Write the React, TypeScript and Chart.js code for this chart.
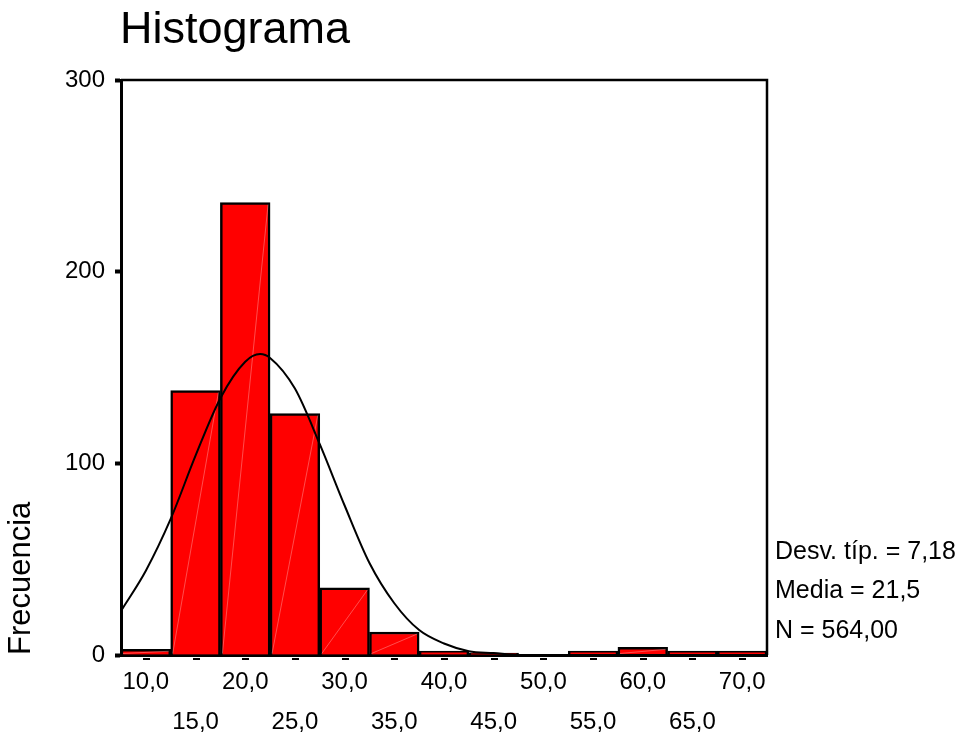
import { useEffect, useRef } from 'react';
import { Chart, registerables } from 'chart.js';

Chart.register(...registerables);

// Histogram bins (centre of each 5-unit class) and their frequencies
const BIN_CENTERS = [10, 15, 20, 25, 30, 35, 40, 45, 50, 55, 60, 65, 70];
const FREQUENCIES = [3, 138, 236, 126, 35, 12, 2, 1, 0, 2, 4, 2, 2];

// Fitted normal curve, sampled along the x range
const CURVE_X = [7.5, 10, 12.5, 15, 17.5, 20, 21.5, 22.5, 25, 27.5, 30, 32.5, 35, 37.5, 40, 42.5, 45, 47.5, 50, 52.5, 72.5];
const CURVE_Y = [23, 44, 71, 104, 134, 153, 157, 155, 139, 110, 78, 48, 27, 13, 6, 2, 1, 0, 0, 0, 0];

const X_TICKS = [10, 15, 20, 25, 30, 35, 40, 45, 50, 55, 60, 65, 70];
const Y_TICKS = [0, 100, 200, 300];
const X_MIN = 7.5;
const X_MAX = 72.5;

const TITLE = 'Histograma';
const Y_TITLE = 'Frecuencia';
const STATS = ['Desv. típ. = 7,18', 'Media = 21,5', 'N = 564,00'];

const FONT = 'Arial, "Liberation Sans", sans-serif';

const fmt = (v: number) => v.toFixed(1).replace('.', ',');

const decorPlugin = {
  id: 'decor',
  afterDatasetDraw(chart: any, args: any) {
    if (args.meta.type !== 'bar') return;
    const ctx = chart.ctx;
    ctx.save();
    ctx.strokeStyle = 'rgba(255,255,255,0.3)';
    ctx.lineWidth = 1;
    args.meta.data.forEach((bar: any) => {
      const { x, y, base, width } = bar.getProps(['x', 'y', 'base', 'width'], true);
      if (base - y < 4) return;
      ctx.beginPath();
      ctx.moveTo(x - width / 2 + 2, base - 1);
      ctx.lineTo(x + width / 2 - 2, y + 2);
      ctx.stroke();
    });
    ctx.restore();
  },
  afterDraw(chart: any) {
    const { ctx, chartArea: a, scales } = chart;
    const xs = scales.x;
    ctx.save();
    // frame: top and right edges
    ctx.strokeStyle = '#000';
    ctx.lineWidth = 2.5;
    ctx.beginPath();
    ctx.moveTo(a.left, a.top);
    ctx.lineTo(a.right, a.top);
    ctx.lineTo(a.right, a.bottom);
    ctx.stroke();

    // small dashes under the axis at each class centre
    ctx.fillStyle = '#000';
    X_TICKS.forEach((v) => {
      const px = Math.round(xs.getPixelForValue(v));
      ctx.fillRect(px - 3, a.bottom + 3, 7, 2);
    });

    // title
    ctx.font = `45px ${FONT}`;
    ctx.textAlign = 'left';
    ctx.textBaseline = 'alphabetic';
    ctx.fillText(TITLE, a.left - 1, 43);

    // summary statistics
    ctx.font = `25px ${FONT}`;
    ctx.textBaseline = 'middle';
    STATS.forEach((s, i) => {
      ctx.fillText(s, a.right + 8, a.bottom - 103 + i * 39.5);
    });
    ctx.restore();
  },
};

export default function App() {
  const canvasRef = useRef<HTMLCanvasElement | null>(null);

  useEffect(() => {
    if (!canvasRef.current) return;
    Chart.defaults.color = '#000';
    Chart.defaults.font.family = FONT;

    const chart = new Chart(canvasRef.current, {
      type: 'bar',
      data: {
        datasets: [
          {
            type: 'line',
            data: CURVE_X.map((x, i) => ({ x, y: CURVE_Y[i] })),
            borderColor: '#000',
            borderWidth: 2,
            pointRadius: 0,
            cubicInterpolationMode: 'monotone',
            fill: false,
            order: 0,
          } as any,
          {
            type: 'bar',
            data: BIN_CENTERS.map((x, i) => ({ x, y: FREQUENCIES[i] })),
            backgroundColor: '#ff0000',
            borderColor: '#000',
            borderWidth: 2.5,
            barPercentage: 1,
            categoryPercentage: 1,
            order: 1,
          } as any,
        ],
      },
      options: {
        responsive: false,
        animation: false,
        events: [],
        layout: { padding: { top: 80, right: 195, left: 0, bottom: 0 } },
        plugins: {
          legend: { display: false },
          tooltip: { enabled: false },
          title: { display: false },
        },
        scales: {
          x: {
            type: 'linear',
            min: X_MIN,
            max: X_MAX,
            offset: false,
            grid: { display: false },
            border: { display: true, color: '#000', width: 3 },
            afterBuildTicks: (s: any) => {
              s.ticks = X_TICKS.map((value) => ({ value }));
            },
            afterFit: (s: any) => {
              s.height = 78;
            },
            ticks: {
              autoSkip: false,
              maxRotation: 0,
              minRotation: 0,
              padding: -1,
              color: '#000',
              font: { size: 24, lineHeight: 40 / 24 },
              callback: (v: any) => {
                const n = Number(v);
                return n % 10 === 0 ? [fmt(n), ''] : ['', fmt(n)];
              },
            },
          },
          y: {
            type: 'linear',
            min: 0,
            max: 300,
            afterBuildTicks: (s: any) => {
              s.ticks = Y_TICKS.map((value) => ({ value }));
            },
            afterFit: (s: any) => {
              s.width = 121;
            },
            grid: {
              display: true,
              drawOnChartArea: false,
              drawTicks: true,
              tickLength: 6,
              tickWidth: 4,
              tickColor: '#000',
            },
            border: { display: true, color: '#000', width: 3 },
            ticks: { padding: 10, color: '#000', font: { size: 24 } },
            title: {
              display: true,
              text: Y_TITLE,
              align: 'start',
              color: '#000',
              font: { size: 31 },
              padding: { top: 3, bottom: 0 },
            },
          },
        },
      },
      plugins: [decorPlugin],
    } as any);

    return () => chart.destroy();
  }, []);

  return (
    <canvas
      ref={canvasRef}
      width={962}
      height={733}
      style={{ position: 'absolute', left: 0, top: 0, display: 'block' }}
    />
  );
}
